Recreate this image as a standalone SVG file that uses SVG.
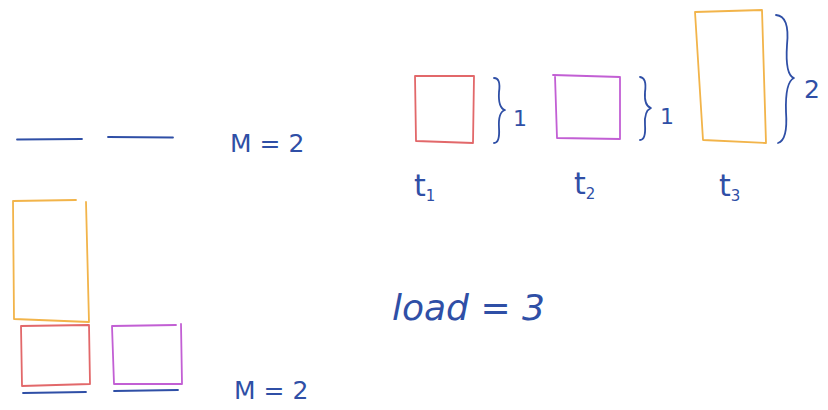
<svg xmlns="http://www.w3.org/2000/svg" width="828" height="410" viewBox="0 0 828 410">
<style>
.ink{fill:none;stroke-linecap:round;stroke-linejoin:round;stroke-width:1.8}
.red{stroke:#e2686a}
.org{stroke:#f2b44a}
.pur{stroke:#c25fd4}
.blu{stroke:#2f4fa6}
.txt{font-family:"DejaVu Sans","Liberation Sans",sans-serif;fill:#2f4fa6}
.sub{font-size:15px}
</style>
<rect width="828" height="410" fill="#ffffff"/>

<g id="machines-top">
<path class="ink blu" d="M17 139.5 L82 139"/>
<path class="ink blu" d="M108 137 L173 137.5"/>
<text class="txt" x="230" y="152" font-size="25">M = 2</text>
</g>

<g id="task-t1">
<path class="ink red" d="M415 76 L474 76 L473 143 L416 141 Z"/>
<path class="ink blu" d="M494 78 Q501 78 499 92 Q498 108 505 110 Q498 112 499 128 Q500 143 494 143"/>
<text class="txt" x="513" y="126" font-size="22">1</text>
<text class="txt" x="414" y="196" font-size="30">t<tspan class="sub" dy="5">1</tspan></text>
</g>

<g id="task-t2">
<path class="ink pur" d="M553 75 L620 77 L620 139 L557 138 L555 76"/>
<path class="ink blu" d="M640 77 Q647 78 645 92 Q644 106 651 108 Q644 111 645 125 Q646 140 640 140"/>
<text class="txt" x="660" y="124" font-size="22">1</text>
<text class="txt" x="574" y="194" font-size="30">t<tspan class="sub" dy="5">2</tspan></text>
</g>

<g id="task-t3">
<path class="ink org" d="M695 12 L762 10 L766 143 L703 140 Z"/>
<path class="ink blu" d="M776 15 Q790 16 787 45 Q785 75 794 78 Q785 82 786 112 Q788 140 778 143"/>
<text class="txt" x="804" y="98" font-size="25">2</text>
<text class="txt" x="719" y="196" font-size="30">t<tspan class="sub" dy="5">3</tspan></text>
</g>

<g id="machine-1">
<path class="ink org" d="M13 201 L76 200 M86 202 L89 322 L14 319 L13 201"/>
<path class="ink red" d="M21 326 L89 325 L90 384 L22 386 Z"/>
<path class="ink blu" d="M23 393 L86 392"/>
</g>

<g id="machine-2">
<path class="ink pur" d="M112 326 L176 325 M181 324 L182 384 L114 384 L112 326"/>
<path class="ink blu" d="M114 391 L178 390"/>
</g>

<g id="labels">
<text class="txt" x="234" y="399" font-size="25">M = 2</text>
<text class="txt" x="392" y="320" font-size="36" font-style="italic">load = 3</text>
</g>
</svg>
